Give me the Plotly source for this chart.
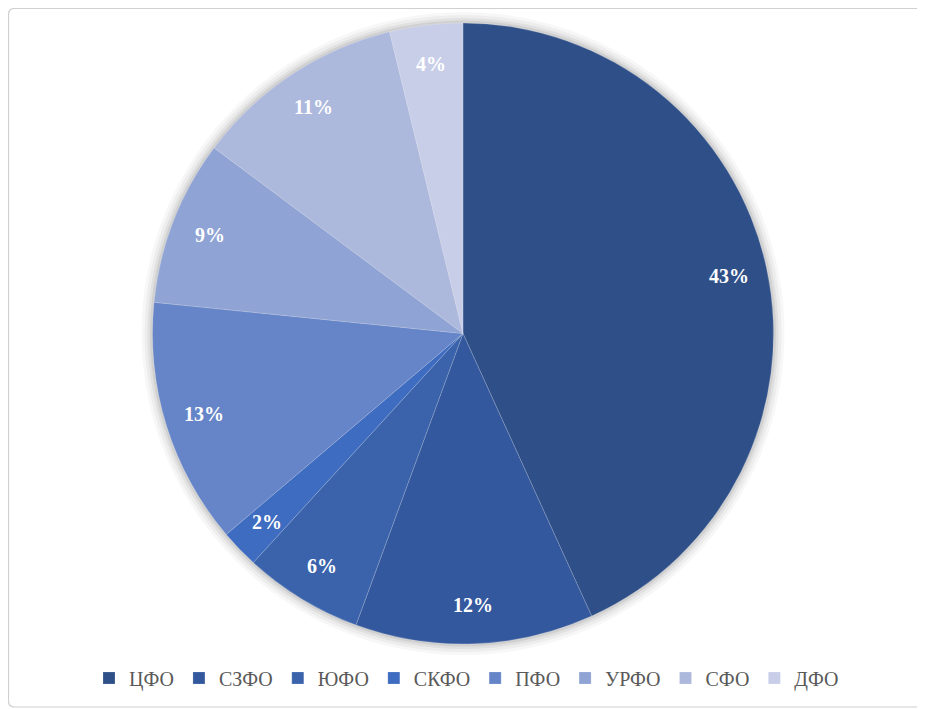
import math
import plotly.graph_objects as go

# federal districts, shares in percent
districts = ['ЦФО', 'СЗФО', 'ЮФО', 'СКФО', 'ПФО', 'УРФО', 'СФО', 'ДФО']
shares = [43.2, 12.4, 6.2, 2.0, 12.8, 8.6, 11.0, 3.8]
colors = ['#2E4F88', '#34589E', '#3A63AC', '#3E6CC0',
          '#6585C8', '#8FA3D4', '#ADB8DD', '#C8CEE8']

serif = 'Liberation Serif, Times New Roman, serif'

# page has an 8px body margin, so the figure is a bit smaller than the window
W, H = 917, 701
cx, cy, R = 455.0, 325.5, 310.5   # pie centre / radius in figure pixels


def px(x):
    return x / W


def py(y):
    return (H - y) / H


def dom(r):
    return dict(x=[px(cx - r), px(cx + r)], y=[py(cy + r), py(cy - r)])


fig = go.Figure()

# soft glow around the pie like the Excel shadow
for k, a in [(11, 0.03), (8, 0.04), (5, 0.05), (2.5, 0.07)]:
    fig.add_trace(go.Pie(values=[1], labels=['shadow'], domain=dom(R + k),
                         marker=dict(colors=['rgba(0,0,0,%s)' % a]),
                         textinfo='none', hoverinfo='skip', showlegend=False, sort=False))

fig.add_trace(go.Pie(
    labels=districts,
    values=shares,
    domain=dom(R),
    sort=False,
    direction='clockwise',
    rotation=0,
    marker=dict(colors=colors, line=dict(color='rgba(255,255,255,0.35)', width=0.5)),
    textinfo='none',
    hoverinfo='label+percent',
))

# percent labels, Excel-style: placed near the rim of every slice
total = sum(shares)
annotations = []
acc = 0
for name, v in zip(districts, shares):
    mid = (acc + v / 2) / total * 2 * math.pi
    acc += v
    rr = 0.875 * R
    annotations.append(dict(
        x=px(cx + rr * math.sin(mid)), y=py(cy - rr * math.cos(mid)),
        xref='paper', yref='paper', showarrow=False,
        text='%d%%' % round(v / total * 100),
        font=dict(family=serif, size=20, color='white', weight='bold'),
        xanchor='center', yanchor='middle'))

# thin grey frame with rounded corners around the whole chart
x0, x1 = px(0.5), px(W - 2)
y0, y1 = py(0.5), py(H - 2)
cxr, cyr = 6 / W, 6 / H
frame = ('M %f %f L %f %f Q %f %f %f %f L %f %f Q %f %f %f %f '
         'L %f %f Q %f %f %f %f L %f %f Q %f %f %f %f Z') % (
    x0 + cxr, y0, x1 - cxr, y0, x1, y0, x1, y0 - cyr,
    x1, y1 + cyr, x1, y1, x1 - cxr, y1,
    x0 + cxr, y1, x0, y1, x0, y1 + cyr,
    x0, y0 - cyr, x0, y0, x0 + cxr, y0)

fig.update_layout(
    width=W, height=H,
    margin=dict(l=0, r=0, t=0, b=0),
    paper_bgcolor='white',
    plot_bgcolor='white',
    showlegend=True,
    legend=dict(orientation='h', x=0.5, xanchor='center', y=py(670), yanchor='middle',
                font=dict(family=serif, size=20, color='#595959'),
                itemwidth=30, traceorder='normal'),
    annotations=annotations,
    shapes=[dict(type='path', path=frame, xref='paper', yref='paper',
                 line=dict(color='#D0D0D0', width=1.2), fillcolor='rgba(0,0,0,0)',
                 layer='below')],
)

fig.write_html("out.html")
